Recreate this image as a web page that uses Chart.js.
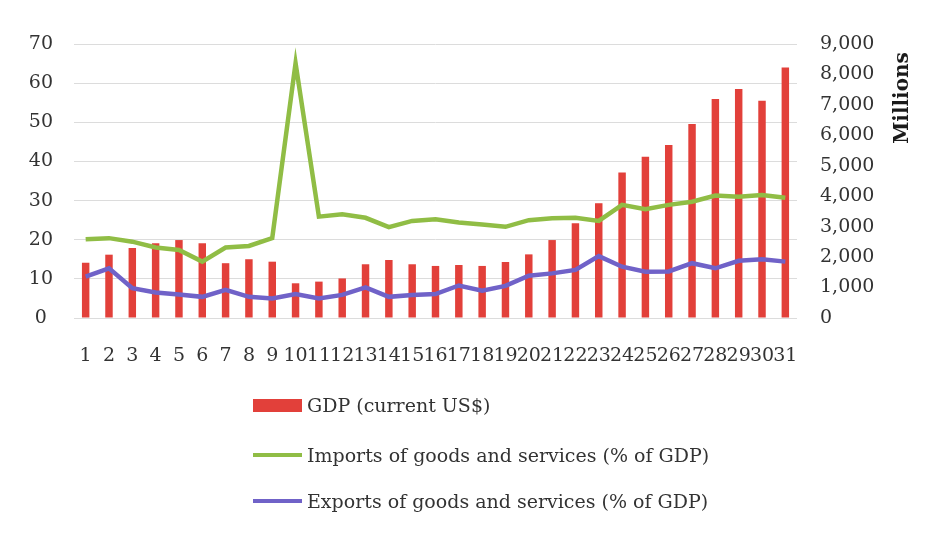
<!DOCTYPE html>
<html>
<head>
<meta charset="utf-8">
<script src="https://cdn.jsdelivr.net/npm/chart.js@4"></script>
<style>
  html, body { margin: 0; padding: 0; background: #fff; }
  #wrap { position: relative; width: 942px; height: 533px; }
  #legend { position: absolute; left: 253px; top: 390px; font-family: 'DejaVu Serif', serif; font-size: 19px; color: #333; }
  .row { position: absolute; left: 0; height: 30px; white-space: nowrap; display: flex; align-items: center; }
  .mark { width: 49px; margin-right: 5px; }
</style>
</head>
<body>
<div id="wrap">
  <canvas id="chart" width="942" height="533"></canvas>
  <div id="legend"></div>
</div>
<script>
(function () {
    'use strict';

    /* ── Datos ─────────────────────────────────────────── */
    var LABELS = ['1','2','3','4','5','6','7','8','9','10','11','12','13','14','15','16',
                  '17','18','19','20','21','22','23','24','25','26','27','28','29','30','31'];

    // GDP (current US$), millions — right axis
    var GDP = [1815, 2080, 2300, 2455, 2560, 2455, 1800, 1930, 1850, 1140, 1195, 1300, 1765, 1905,
               1765, 1710, 1740, 1710, 1840, 2090, 2560, 3110, 3770, 4780, 5300, 5685, 6375, 7195,
               7520, 7140, 8225];

    // Imports of goods and services (% of GDP) — left axis
    var IMPORTS = [20.1, 20.4, 19.5, 18.0, 17.4, 14.4, 18.0, 18.4, 20.4, 65.1, 25.9, 26.5, 25.6, 23.2,
                   24.8, 25.2, 24.4, 23.9, 23.3, 25.0, 25.5, 25.6, 24.8, 28.9, 27.8, 28.9, 29.7, 31.3,
                   31.0, 31.4, 30.7];

    // Exports of goods and services (% of GDP) — left axis
    var EXPORTS = [10.6, 12.7, 7.6, 6.5, 6.0, 5.4, 7.2, 5.4, 5.0, 6.1, 5.0, 5.9, 7.8, 5.4,
                   5.9, 6.1, 8.3, 7.0, 8.2, 10.8, 11.4, 12.3, 15.8, 13.1, 11.8, 11.9, 14.0, 12.7,
                   14.6, 15.0, 14.4];

    var SERIES_NAMES = ['GDP (current US$)',
                        'Imports of goods and services (% of GDP)',
                        'Exports of goods and services (% of GDP)'];

    var RED    = '#e2403a';
    var GREEN  = '#90bd45';
    var PURPLE = '#7062c8';
    var GRID   = '#dcdcdc';
    var TEXT   = '#333333';

    Chart.defaults.font.family = "'DejaVu Serif', serif";
    Chart.defaults.font.size   = 19;
    Chart.defaults.color       = TEXT;

    /* ── Título "Millions" del eje derecho ─────────────── */
    var millionsTitle = {
        id: 'millionsTitle',
        afterDraw: function (chart) {
            var ctx = chart.ctx;
            ctx.save();
            ctx.translate(chart.width - 39, 98);
            ctx.rotate(-Math.PI / 2);
            ctx.font = "bold 20px 'DejaVu Serif', serif";
            ctx.fillStyle = '#1a1a1a';
            ctx.textAlign = 'center';
            ctx.textBaseline = 'middle';
            ctx.fillText('Millions', 0, 0);
            ctx.restore();
        }
    };

    var chart = new Chart(document.getElementById('chart'), {
        type: 'bar',
        data: {
            labels: LABELS,
            datasets: [
                {
                    type: 'bar',
                    label: SERIES_NAMES[0],
                    data: GDP,
                    backgroundColor: RED,
                    yAxisID: 'yR',
                    barPercentage: 0.32,
                    categoryPercentage: 1,
                    order: 2
                },
                {
                    type: 'line',
                    label: SERIES_NAMES[1],
                    data: IMPORTS,
                    borderColor: GREEN,
                    backgroundColor: GREEN,
                    borderWidth: 4.5,
                    pointRadius: 0,
                    tension: 0,
                    yAxisID: 'yL',
                    order: 1
                },
                {
                    type: 'line',
                    label: SERIES_NAMES[2],
                    data: EXPORTS,
                    borderColor: PURPLE,
                    backgroundColor: PURPLE,
                    borderWidth: 4.5,
                    pointRadius: 0,
                    tension: 0,
                    yAxisID: 'yL',
                    order: 0
                }
            ]
        },
        options: {
            responsive: false,
            animation: false,
            locale: 'en-US',
            layout: { padding: { top: 44, bottom: 155, left: 0, right: 0 } },
            plugins: {
                legend: { display: false },
                tooltip: { enabled: false }
            },
            scales: {
                x: {
                    grid: { display: false, drawTicks: false },
                    border: { display: false },
                    ticks: { autoSkip: false, maxRotation: 0, minRotation: 0, padding: 27 },
                    afterFit: function (s) { s.height = 60; }
                },
                yL: {
                    position: 'left',
                    min: 0, max: 70,
                    grid: { color: GRID, drawTicks: false, lineWidth: 1 },
                    border: { display: false },
                    ticks: { stepSize: 10, crossAlign: 'center', padding: 21 },
                    afterFit: function (s) { s.width = 74; }
                },
                yR: {
                    position: 'right',
                    min: 0, max: 9000,
                    grid: { drawOnChartArea: false, drawTicks: false },
                    border: { display: false },
                    ticks: { stepSize: 1000, padding: 23 },
                    afterFit: function (s) { s.width = 145; }
                }
            }
        },
        plugins: [millionsTitle]
    });

    /* ── Leyenda HTML vertical ─────────────────────────── */
    var legend = document.getElementById('legend');
    var rowTops = [0, 50, 96];
    chart.data.datasets.forEach(function (ds, i) {
        var row = document.createElement('div');
        row.className = 'row';
        row.style.top = rowTops[i] + 'px';
        var mark = document.createElement('span');
        mark.className = 'mark';
        mark.style.background = ds.type === 'bar' ? ds.backgroundColor : ds.borderColor;
        mark.style.height = ds.type === 'bar' ? '13px' : '4px';
        var txt = document.createElement('span');
        txt.textContent = ds.label;
        row.appendChild(mark);
        row.appendChild(txt);
        legend.appendChild(row);
    });
})();
</script>
</body>
</html>
